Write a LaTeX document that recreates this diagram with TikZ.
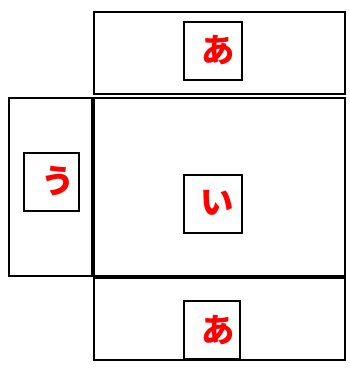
\documentclass[tikz,border=0pt]{standalone}
\usepackage{fontspec}
\newfontfamily\jpfont{Noto Sans CJK JP}
\usetikzlibrary{fit}
\begin{document}
\begin{tikzpicture}[x=0.75pt, y=-0.75pt, line width=1.1pt,
                    panel/.style={draw, rectangle, inner sep=0pt},
                    tag/.style={text=red, font=\jpfont\bfseries\fontsize{25}{25}\selectfont, inner sep=0pt}]
                    \useasboundingbox (0,0) rectangle (350,372);
                    \node[panel, fit={(94,12) (345,94)}] (top) {};
                    \node[panel, fit={(94,98) (345,276)}] (mid) {};
                    \node[panel, fit={(9,98) (92,276)}] (left) {};
                    \node[panel, fit={(94,278) (345,360)}] (bot) {};
                    \node[panel, fit={(184,22) (242,80)}] (boxa) {};
                    \node[panel, fit={(184,175) (242,233)}] (boxi) {};
                    \node[panel, fit={(24,153) (79,211)}] (boxu) {};
                    \node[panel, fit={(184,301) (240,359)}] (boxb) {};
                    \node[tag] (a) at (218,50) {あ};
                    \node[tag] (i) at (217,203) {い};
                    \node[tag] (u) at (58,181) {う};
                    \node[tag] (b) at (218,330) {あ};
                \end{tikzpicture}
\end{document}
